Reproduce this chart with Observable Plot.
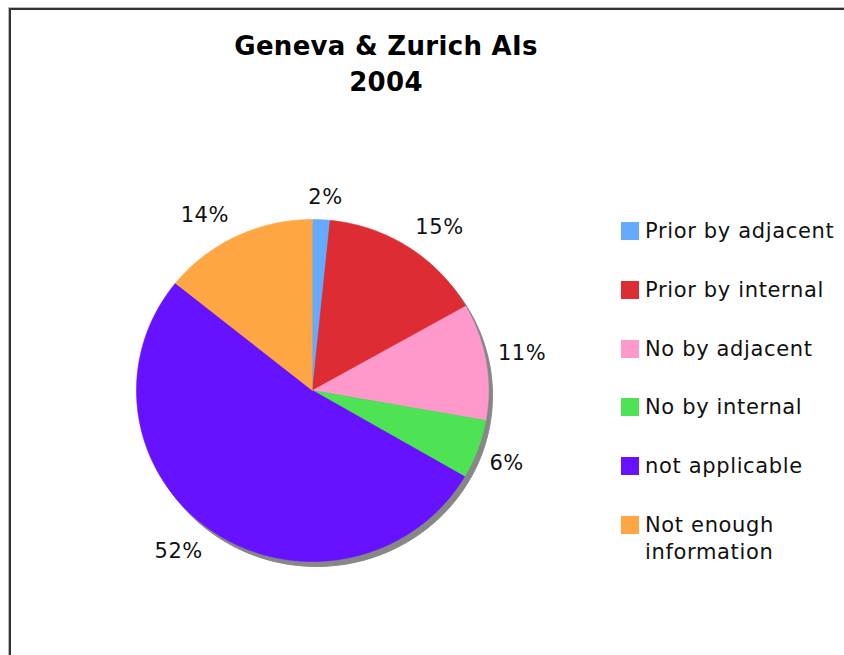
<!DOCTYPE html>
<html>
<head>
<meta charset="utf-8">
<script src="https://cdn.jsdelivr.net/npm/d3@7"></script>
<script src="https://cdn.jsdelivr.net/npm/@observablehq/plot@0.6"></script>
<style>
  html, body { margin: 0; padding: 0; background: #fff; overflow: hidden; }
  #wrap { position: relative; width: 844px; height: 655px; }
  #chart { position: absolute; left: 0; top: 0; }
  #frame { position: absolute; left: 9px; top: 8px; width: 900px; height: 700px;
           border-left: 2px solid #333; border-top: 2px solid #333;
           box-shadow: -1px -1px 0 #bbb; pointer-events: none; }
  #title { position: absolute; left: 0; top: 28px; width: 772px; text-align: center;
           font-family: "DejaVu Sans", sans-serif; font-weight: bold; font-size: 26px;
           letter-spacing: 0.3px; line-height: 36px; color: #000; }
  #legend { position: absolute; left: 621px; top: 218px; width: 223px;
            font-family: "DejaVu Sans", sans-serif; font-size: 21px; letter-spacing: 0.65px; color: #111; }
  .item { display: flex; align-items: flex-start; height: 58.8px; }
  .sw { width: 18px; height: 18px; margin-top: 4px; margin-right: 6px; flex: none; }
  .lab { line-height: 27px; width: 199px; }
</style>
</head>
<body>
<div id="wrap">
  <div id="chart"></div>
  <div id="frame"></div>
  <div id="title">Geneva &amp; Zurich AIs<br>2004</div>
  <div id="legend"></div>
</div>
<script>
const categories = ["Prior by adjacent", "Prior by internal", "No by adjacent", "No by internal", "not applicable", "Not enough information"];
const values = [1.6, 15.2, 11.0, 5.6, 52.4, 14.2];
const labels = ["2%", "15%", "11%", "6%", "52%", "14%"];
const colors = ["#66aaff", "#dd2c33", "#ff99cc", "#4de355", "#6611ff", "#ffa644"];

const total = d3.sum(values);
const RX = 176, RY = 171; // pixel radii used to convert label offsets
const LABEL_FONT = 21;

// build slice polygons from the data
const slices = [];
let cum = 0;
values.forEach((v, i) => {
  const a0 = cum / total * 2 * Math.PI;
  cum += v;
  const a1 = cum / total * 2 * Math.PI;
  const n = Math.max(2, Math.ceil((a1 - a0) / (Math.PI / 360)));
  slices.push({cat: categories[i], col: colors[i], x: 0, y: 0});
  for (let k = 0; k <= n; k++) {
    const a = a0 + (a1 - a0) * k / n;
    slices.push({cat: categories[i], col: colors[i], x: Math.sin(a), y: Math.cos(a)});
  }
});

const shadow = d3.range(0, 361, 1).map(d => ({x: Math.sin(d * Math.PI / 180), y: Math.cos(d * Math.PI / 180)}));

// label positions derived from slice mid-angles
const ctx = document.createElement("canvas").getContext("2d");
ctx.font = `${LABEL_FONT}px "DejaVu Sans"`;
const clamp = (v) => Math.max(-1, Math.min(1, v));
const labelData = [];
cum = 0;
values.forEach((v, i) => {
  const mid = (cum + v / 2) / total * 2 * Math.PI;
  cum += v;
  const w = ctx.measureText(labels[i]).width + 2;
  const h = 20;
  const s = Math.sin(mid), c = Math.cos(mid);
  const pdx = (s < 0 ? 17 : 12) * s + (w / 2) * clamp(s * 4);
  const pdy = -12 * c - (h / 2) * clamp(c * 4);
  labelData.push({text: labels[i], x: s + pdx / RX, y: c - pdy / RY});
});

const plot = Plot.plot({
  width: 844,
  height: 655,
  margin: 0,
  x: {domain: [-1, 1], range: [136, 488], axis: null},
  y: {domain: [-1, 1], range: [561, 219], axis: null},
  color: {type: "identity"},
  style: {fontFamily: "DejaVu Sans, sans-serif", background: "transparent"},
  marks: [
    Plot.line(shadow, {x: "x", y: "y", fill: "#878787", stroke: "#878787", strokeWidth: 1, dx: 4, dy: 5, curve: "linear"}),
    Plot.line(slices, {x: "x", y: "y", z: "cat", fill: "col", stroke: "col", strokeWidth: 0.6, curve: "linear"}),
    Plot.text(labelData, {x: "x", y: "y", text: "text", fontSize: LABEL_FONT, fill: "#111", textAnchor: "middle", lineAnchor: "middle", letterSpacing: 0.6})
  ]
});
plot.querySelectorAll("text").forEach(t => t.style.letterSpacing = "0.6px");
document.getElementById("chart").appendChild(plot);

const legend = document.getElementById("legend");
categories.forEach((c, i) => {
  const it = document.createElement("div");
  it.className = "item";
  const sw = document.createElement("div");
  sw.className = "sw";
  sw.style.background = colors[i];
  const lab = document.createElement("div");
  lab.className = "lab";
  lab.textContent = c;
  it.appendChild(sw);
  it.appendChild(lab);
  legend.appendChild(it);
});
</script>
</body>
</html>
